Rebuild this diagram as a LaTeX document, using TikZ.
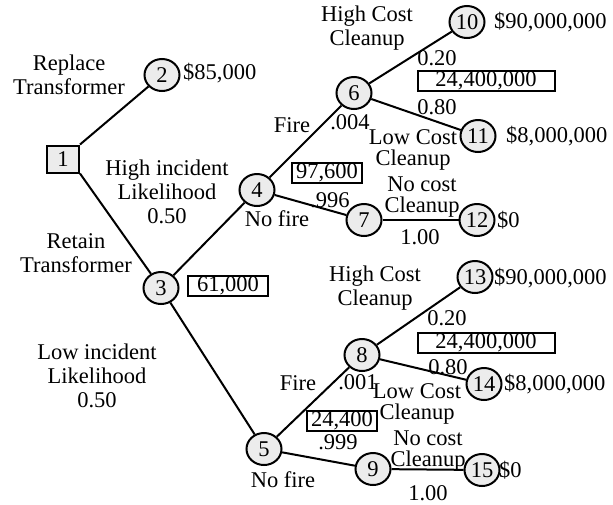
\documentclass[tikz,border=0pt]{standalone}
\usepackage{fontspec}
\setmainfont{Liberation Serif}
\usetikzlibrary{shapes.geometric}
\begin{document}
\begin{tikzpicture}[x=1pt,y=-1pt,
  every node/.style={font=\fontsize{22.5}{24}\selectfont},
  chance/.style={ellipse, draw, line width=2pt, fill=gray!15, minimum width=35pt, minimum height=32pt, inner sep=0pt},
  decision/.style={rectangle, draw, line width=2pt, fill=gray!15, minimum width=32pt, minimum height=27pt, inner sep=0pt},
  valbox/.style={rectangle, draw, line width=2pt, minimum height=20pt, inner sep=0pt},
  lbl/.style={align=center, inner sep=0pt},
  tight/.style={align=center, inner sep=0pt, font=\fontsize{22.5}{21.5}\selectfont},
  pay/.style={anchor=west, inner sep=0pt},
  edge/.style={line width=2pt}]
\useasboundingbox (0,0) rectangle (613,504);
% nodes
\node[decision] (n1) at (63,159) {1};
\node[chance] (n2) at (162,75) {2};
\node[chance] (n3) at (161,288) {3};
\node[chance] (n4) at (257,190) {4};
\node[chance] (n5) at (264,449) {5};
\node[chance] (n6) at (354,93) {6};
\node[chance] (n7) at (364,220) {7};
\node[chance] (n8) at (362,355) {8};
\node[chance] (n9) at (373,469) {9};
\node[chance] (n10) at (467,22) {10};
\node[chance] (n11) at (478,136) {11};
\node[chance] (n12) at (477,220) {12};
\node[chance] (n13) at (475,277) {13};
\node[chance] (n14) at (484,384) {14};
\node[chance] (n15) at (482,470) {15};
% connectors
\draw[edge] (n1.north east) -- (n2);
\draw[edge] (n1.south east) -- (n3);
\draw[edge] (n3) -- (n4);
\draw[edge] (n3) -- (n5);
\draw[edge] (n4) -- (n6);
\draw[edge] (n4) -- (n7);
\draw[edge] (n6) -- (n10);
\draw[edge] (n6) -- (n11);
\draw[edge] (n7) -- (n12);
\draw[edge] (n5) -- (n8);
\draw[edge] (n5) -- (n9);
\draw[edge] (n8) -- (n13);
\draw[edge] (n8) -- (n14);
\draw[edge] (n9) -- (n15);
% payoffs
\node[pay] (p2) at (183,73) {\$85,000};
\node[pay] (p10) at (494,22) {\$90,000,000};
\node[pay] (p11) at (506,136) {\$8,000,000};
\node[pay] (p12) at (497,220) {\$0};
\node[pay] (p13) at (494,278) {\$90,000,000};
\node[pay] (p14) at (504,384) {\$8,000,000};
\node[pay] (p15) at (499,470) {\$0};
% value boxes
\node[valbox, minimum width=80pt] (v3) at (228,286) {61,000};
\node[valbox, minimum width=70pt] (v4) at (327,173) {97,600};
\node[valbox, minimum width=137pt] (v6) at (486,81) {24,400,000};
\node[valbox, minimum width=70pt] (v5) at (342,421) {24,400};
\node[valbox, minimum width=137pt] (v8) at (486,343) {24,400,000};
% labels
\node[lbl] (l1) at (69,75) {Replace\\Transformer};
\node[lbl] (l2) at (76,253) {Retain\\Transformer};
\node[lbl] (l3) at (167,192) {High incident\\Likelihood\\0.50};
\node[lbl] (l4) at (97,376) {Low incident\\Likelihood\\0.50};
\node[lbl] (l5) at (292,125) {Fire};
\node[lbl] (l6) at (277,219) {No fire};
\node[lbl] (l7) at (350,122) {.004};
\node[lbl] (l8) at (330,200) {.996};
\node[lbl] (l9) at (367,28) {High Cost\\Cleanup};
\node[lbl] (l10) at (437,58) {0.20};
\node[lbl] (l11) at (437,107) {0.80};
\node[tight] (l12) at (413,150) {Low Cost\\Cleanup};
\node[tight] (l13) at (422,197) {No cost\\Cleanup};
\node[lbl] (l14) at (420,237) {1.00};
\node[lbl] (l15) at (298,383) {Fire};
\node[lbl] (l16) at (283,480) {No fire};
\node[lbl] (l17) at (358,382) {.001};
\node[lbl] (l18) at (338,442) {.999};
\node[lbl] (l19) at (375,288) {High Cost\\Cleanup};
\node[lbl] (l20) at (447,318) {0.20};
\node[lbl] (l21) at (448,367) {0.80};
\node[tight] (l22) at (417,404) {Low Cost\\Cleanup};
\node[tight] (l23) at (428,451) {No cost\\Cleanup};
\node[lbl] (l24) at (428,493) {1.00};
\end{tikzpicture}
\end{document}
